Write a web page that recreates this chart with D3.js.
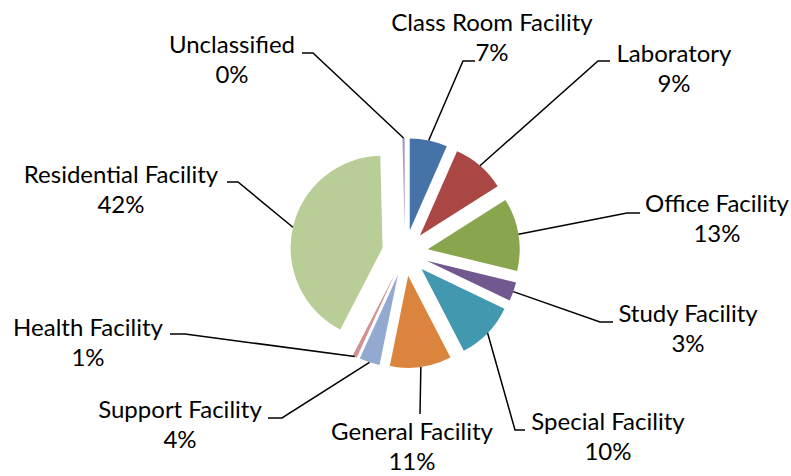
<!DOCTYPE html>
<html>
<head>
<meta charset="utf-8">
<script src="https://cdn.jsdelivr.net/npm/d3@7"></script>
<style>
  body { margin: 0; background: #fff; }
  text { font-family: Lato, "Open Sans", sans-serif; font-size: 24px; fill: #000; }
  .leader { fill: none; stroke: #000; stroke-width: 1.5; }
</style>
</head>
<body>
<div id="chart-area"></div>
<script>
const width = 791, height = 476;

// data (percent of total)
const categories = ['Class Room Facility','Laboratory','Office Facility','Study Facility','Special Facility',
                    'General Facility','Support Facility','Health Facility','Residential Facility','Unclassified'];
const values = [6.6, 9.4, 12.8, 3.3, 10.3, 10.8, 3.6, 0.8, 42.0, 0.4];
const pctLabels = ['7%','9%','13%','3%','10%','11%','4%','1%','42%','0%'];

const colors = ['#4572A7','#AA4643','#89A54E','#71588F','#4198AF','#DB843D','#93A9CF','#D19392','#B9CD96','#A99BBD'];

// label placement: text centre x, first baseline y, and the elbow/end of the leader line
const labelPos = [
  {x:492, y:31,  elbow:[463,61],  end:[475,61]},
  {x:674, y:62,  elbow:[598,61],  end:[610,61]},
  {x:717, y:212, elbow:[627,213], end:[640,213]},
  {x:688, y:322, elbow:[600,322], end:[613,322]},
  {x:608, y:430, elbow:[515,430], end:[525,430]},
  {x:412, y:440, elbow:[420,414], end:[420,414]},
  {x:180, y:418, elbow:[282,418], end:[268,418]},
  {x:88,  y:336, elbow:[185,334], end:[170,334]},
  {x:121, y:183, elbow:[238,182], end:[227,182]},
  {x:232, y:53,  elbow:[313,53],  end:[302,53]}
];

const cx = 405, cy = 253, radius = 92, explode = 23;

const data = categories.map((c,i) => ({name:c, value:values[i], pct:pctLabels[i], i:i}));

var svg = d3.select("#chart-area").append("svg")
    .attr("width", width)
    .attr("height", height);

var g = svg.append("g").attr("transform", "translate(" + cx + "," + cy + ")");

var pie = d3.pie().sort(null).value(d => d.value);
var arc = d3.arc().innerRadius(0).outerRadius(radius);
var arcs = pie(data);

function mid(d) { return (d.startAngle + d.endAngle) / 2; }

g.selectAll("path.slice")
  .data(arcs)
  .enter()
  .append("path")
  .attr("class","slice")
  .attr("fill", d => colors[d.data.i])
  .attr("transform", d => {
    var a = mid(d);
    return "translate(" + (explode*Math.sin(a)) + "," + (-explode*Math.cos(a)) + ")";
  })
  .attr("d", arc);

// leader lines
svg.selectAll("path.leader")
  .data(arcs)
  .enter()
  .append("path")
  .attr("class","leader")
  .attr("d", d => {
    var a = mid(d), r = radius + explode;
    var p0 = [cx + r*Math.sin(a), cy - r*Math.cos(a)];
    var lp = labelPos[d.data.i];
    return d3.line()([p0, lp.elbow, lp.end]);
  });

// labels
var labels = svg.selectAll("text.lbl")
  .data(arcs)
  .enter()
  .append("text")
  .attr("class","lbl")
  .attr("text-anchor","middle");

labels.append("tspan")
  .attr("x", d => labelPos[d.data.i].x)
  .attr("y", d => labelPos[d.data.i].y)
  .text(d => d.data.name);

labels.append("tspan")
  .attr("x", d => labelPos[d.data.i].x)
  .attr("y", d => labelPos[d.data.i].y + 30)
  .text(d => d.data.pct);
</script>
</body>
</html>
